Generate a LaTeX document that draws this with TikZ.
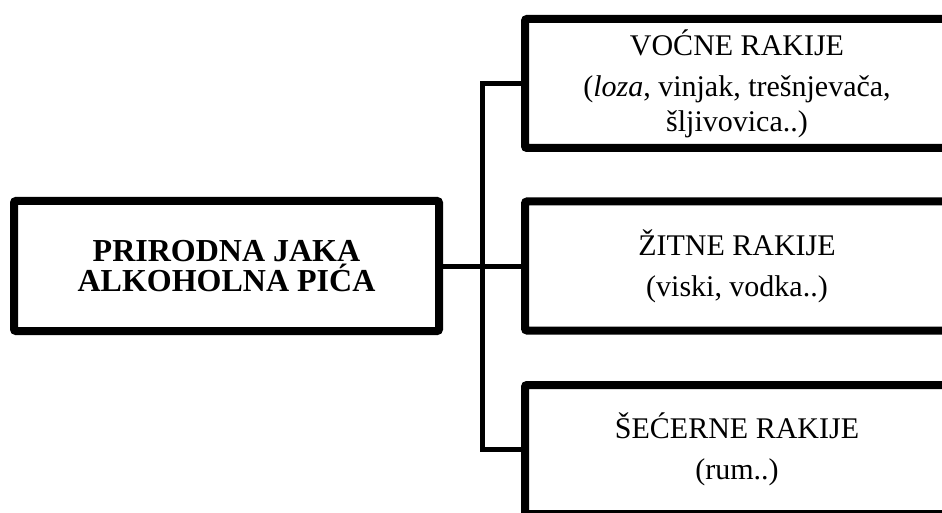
\documentclass[tikz,border=0pt]{standalone}
\usepackage{fontspec}
\setmainfont{Liberation Serif}
\usetikzlibrary{shadows}

\begin{document}
\begin{tikzpicture}[x=1pt, y=-1pt,
    kind/.style={draw, line width=8pt, rounded corners=2pt, fill=white, inner sep=0pt,
        align=center, font=\fontsize{30}{35}\selectfont,
        drop shadow={shadow xshift=2pt, shadow yshift=-2pt, opacity=0.3}},
    link/.style={line width=5pt}]
\useasboundingbox (0,0) rectangle (942,513);
\clip (0,0) rectangle (942,513);
% root
\node[kind, minimum width=425pt, minimum height=130pt, font=\fontsize{32}{30}\selectfont\bfseries] (jaka) at (226.5,266) {PRIRODNA JAKA\\ALKOHOLNA PIĆA};
% three kinds
\node[kind, minimum width=424pt, minimum height=129pt] (vocne) at (737,83.5) {VOĆNE RAKIJE\\[6pt](\textit{loza}, vinjak, trešnjevača,\\šljivovica..)};
\node[kind, minimum width=424pt, minimum height=129pt] (zitne) at (737,266) {ŽITNE RAKIJE\\[6pt](viski, vodka..)};
\node[kind, minimum width=424pt, minimum height=129pt] (secerne) at (737,449.5) {ŠEĆERNE RAKIJE\\[6pt](rum..)};
% connectors
\coordinate (fork) at (482,266);
\draw[link] (jaka.east) -- (fork);
\draw[link] (fork) |- (vocne.west);
\draw[link] (fork) -- (zitne.west);
\draw[link] (fork) |- (secerne.west);
\end{tikzpicture}
\end{document}
